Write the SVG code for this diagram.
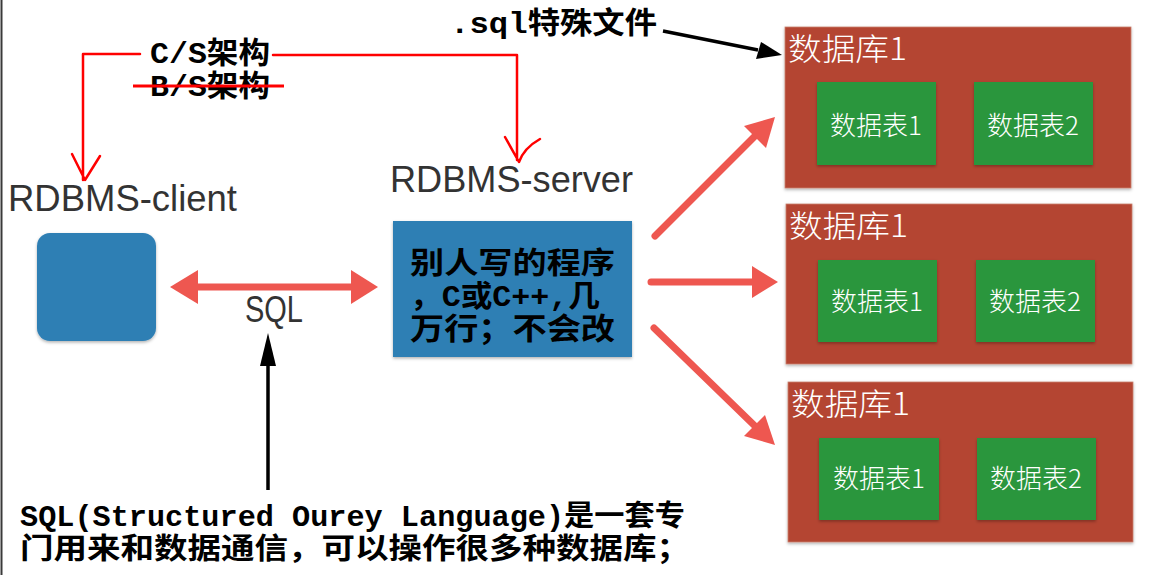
<svg xmlns="http://www.w3.org/2000/svg" width="1156" height="575" viewBox="0 0 1156 575">
<defs>
<style>
.db{fill:#b44432;stroke:#c9806f;stroke-width:0.8}
.tb{fill:#2c963e}
.dbl{font-family:"Noto Sans CJK SC","Liberation Sans",sans-serif;font-size:31px;font-weight:300;fill:#fff}
.tbl{font-family:"Noto Sans CJK SC","Liberation Sans",sans-serif;font-size:26px;font-weight:300;fill:#fff;text-anchor:middle}
.lbl{font-family:"Liberation Sans","Noto Sans",sans-serif;font-size:36px;fill:#333}
.mono{font-family:"Liberation Mono","Noto Sans CJK SC",monospace;fill:#000;font-weight:bold}
.ra{stroke:#ee5750;stroke-width:7;stroke-linecap:round;fill:none}
.rh{fill:#ee5750}
.red{stroke:#ff0000;stroke-width:2.5;fill:none;stroke-linecap:round;stroke-linejoin:round}
.blk{stroke:#000;stroke-width:3.5;fill:none}
</style>
<filter id="sh" x="-5%" y="-5%" width="110%" height="115%">
<feDropShadow dx="0" dy="1.5" stdDeviation="1.5" flood-color="#000" flood-opacity="0.3"/>
</filter>
</defs>
<rect width="1156" height="575" fill="#fff"/>
<line x1="1.5" y1="0" x2="1.5" y2="575" stroke="#3a3a3a" stroke-width="2"/>

<g id="client">
<text class="lbl" x="8" y="211" textLength="229" lengthAdjust="spacingAndGlyphs">RDBMS-client</text>
<rect x="37" y="233" width="119" height="108" rx="13" fill="#2f7fb4" filter="url(#sh)"/>
</g>

<g id="server">
<text class="lbl" x="390" y="192" textLength="243" lengthAdjust="spacingAndGlyphs">RDBMS-server</text>
<rect x="393" y="221" width="239" height="136" fill="#2f7fb4" filter="url(#sh)"/>
<g class="mono" font-size="30">
<text x="410" y="273" textLength="205" lengthAdjust="spacingAndGlyphs">别人写的程序</text>
<text x="410" y="306" textLength="190" lengthAdjust="spacingAndGlyphs">，C或C++,几</text>
<text x="410" y="339" textLength="205" lengthAdjust="spacingAndGlyphs">万行；不会改</text>
</g>
</g>

<g id="db1">
<rect class="db" x="785" y="27" width="346" height="161" filter="url(#sh)"/>
<text class="dbl" x="788" y="60" textLength="119" lengthAdjust="spacingAndGlyphs">数据库1</text>
<rect class="tb" x="817" y="82" width="119" height="83" filter="url(#sh)"/>
<text class="tbl" x="876" y="135">数据表1</text>
<rect class="tb" x="974" y="82" width="119" height="83" filter="url(#sh)"/>
<text class="tbl" x="1033" y="135">数据表2</text>
</g>

<g id="db2">
<rect class="db" x="786" y="204" width="346" height="160" filter="url(#sh)"/>
<text class="dbl" x="789" y="237" textLength="119" lengthAdjust="spacingAndGlyphs">数据库1</text>
<rect class="tb" x="818" y="260" width="119" height="82" filter="url(#sh)"/>
<text class="tbl" x="877" y="311">数据表1</text>
<rect class="tb" x="976" y="260" width="119" height="82" filter="url(#sh)"/>
<text class="tbl" x="1035" y="311">数据表2</text>
</g>

<g id="db3">
<rect class="db" x="788" y="382" width="345" height="160" filter="url(#sh)"/>
<text class="dbl" x="791" y="415" textLength="119" lengthAdjust="spacingAndGlyphs">数据库1</text>
<rect class="tb" x="819" y="438" width="120" height="82" filter="url(#sh)"/>
<text class="tbl" x="879" y="488">数据表1</text>
<rect class="tb" x="977" y="438" width="119" height="82" filter="url(#sh)"/>
<text class="tbl" x="1036" y="488">数据表2</text>
</g>

<g id="notes">
<text class="mono" x="150" y="63" font-size="30" textLength="120" lengthAdjust="spacingAndGlyphs">C/S架构</text>
<text class="mono" x="150" y="96" font-size="30" textLength="120" lengthAdjust="spacingAndGlyphs">B/S架构</text>
<line x1="133" y1="86" x2="284" y2="86" stroke="#ff0000" stroke-width="3"/>
<text class="mono" x="450" y="33" font-size="30" textLength="207" lengthAdjust="spacingAndGlyphs">.sql特殊文件</text>
<text class="lbl" x="245" y="322" font-size="27" textLength="58" lengthAdjust="spacingAndGlyphs">SQL</text>
<text class="mono" x="20" y="526" font-size="29" textLength="665" lengthAdjust="spacingAndGlyphs">SQL(Structured Ourey Language)是一套专</text>
<text class="mono" x="20" y="559" font-size="29" textLength="670" lengthAdjust="spacingAndGlyphs">门用来和数据通信，可以操作很多种数据库；</text>
</g>

<g id="connectors">
<path class="red" d="M140 54 H83 V180 M72 154 L85 180 L100 156"/>
<path class="red" d="M273 55 H517 V160 M505 137 L519 162 Q524 148 540 139"/>
<line class="ra" x1="190" y1="287" x2="358" y2="287"/>
<polygon class="rh" points="170,287 198,270 198,304"/>
<polygon class="rh" points="378,287 351,270 351,304"/>
<line class="ra" x1="655" y1="236" x2="757" y2="134"/>
<polygon class="rh" points="775,117 766,148 744,126"/>
<line class="ra" x1="651" y1="282" x2="756" y2="282"/>
<polygon class="rh" points="778,282 752,266 752,298"/>
<line class="ra" x1="654" y1="328" x2="757" y2="428"/>
<polygon class="rh" points="775,445 765,415 744,436"/>
<line class="blk" x1="663" y1="31" x2="758" y2="50"/>
<polygon points="782,55 756,59 761,42" fill="#000"/>
<line class="blk" x1="268" y1="490" x2="268" y2="360"/>
<polygon points="268,333 276,366 260,366" fill="#000"/>
</g>
</svg>
